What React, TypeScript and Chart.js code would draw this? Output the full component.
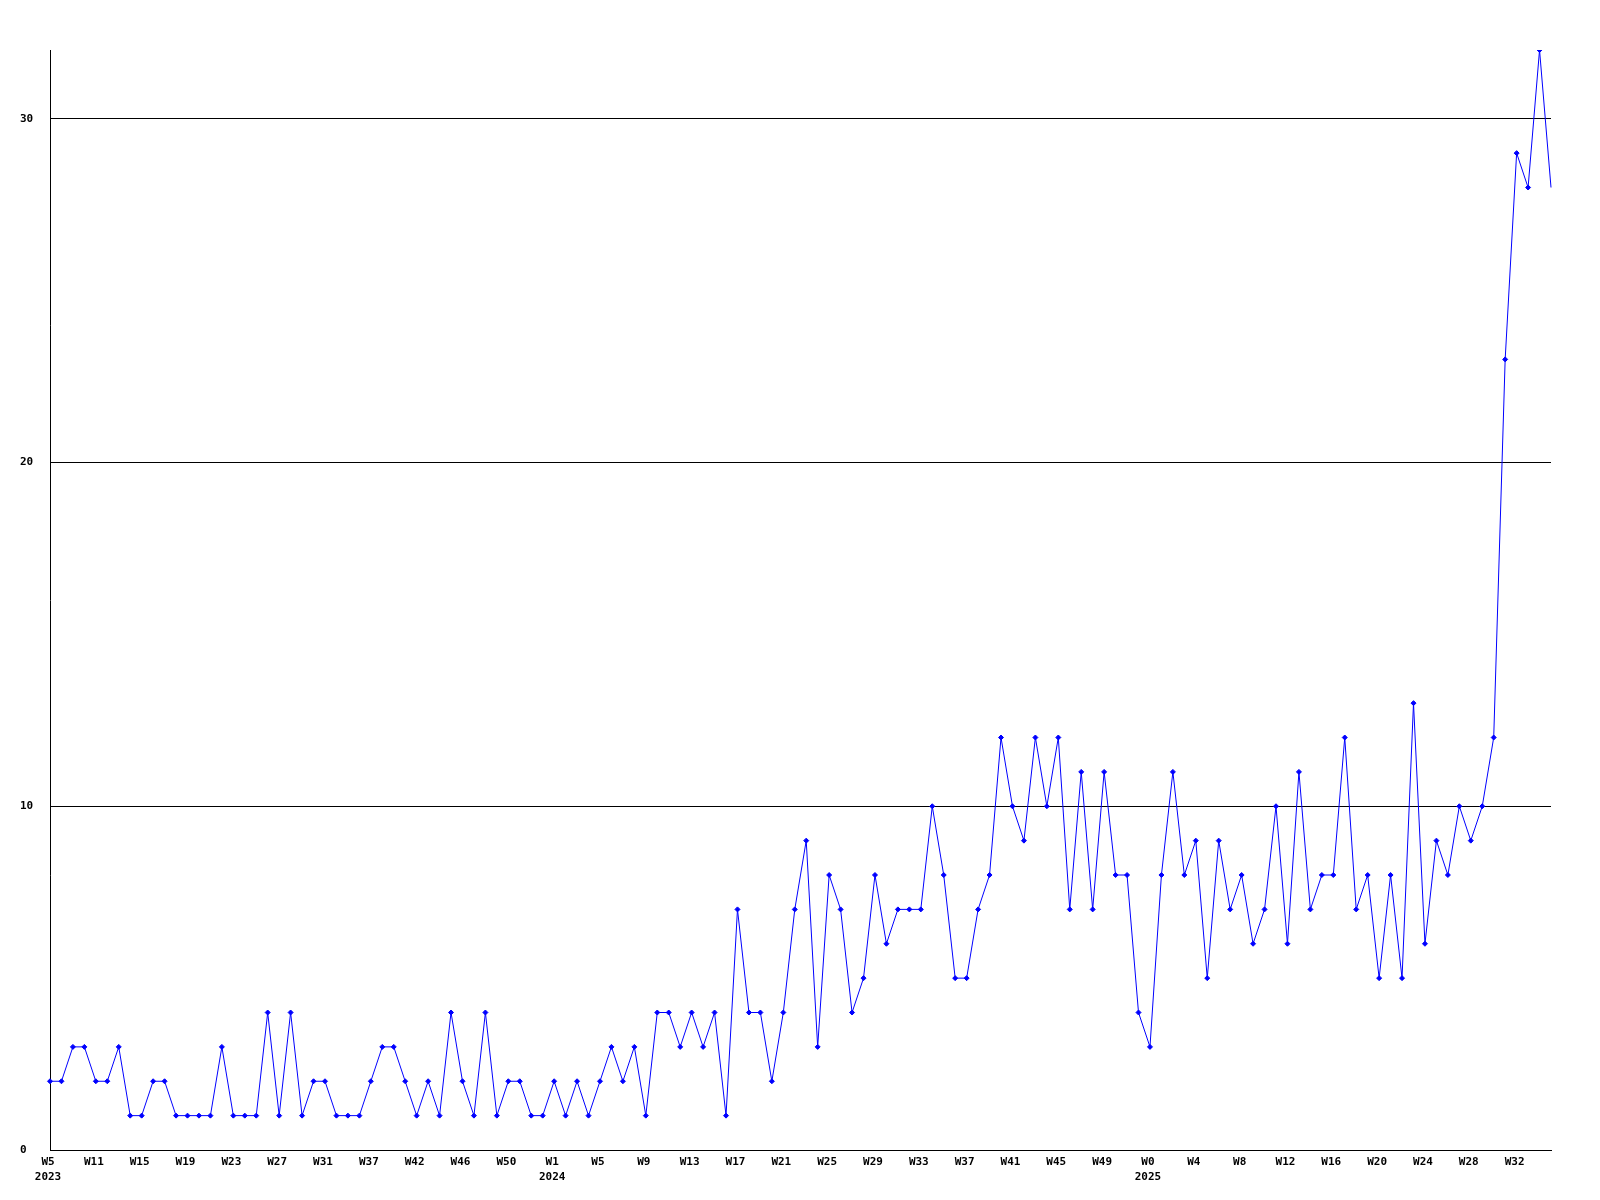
import React, { useEffect, useRef } from "react";
import { Chart, registerables } from "chart.js";

Chart.register(...registerables);

// Weekly counts, W5 2023 .. W35 2025 (132 weeks)
const counts: number[] = [
  2, 2, 3, 3, 2, 2, 3, 1, 1, 2, 2, 1, 1, 1, 1, 3, 1, 1, 1, 4,
  1, 4, 1, 2, 2, 1, 1, 1, 2, 3, 3, 2, 1, 2, 1, 4, 2, 1, 4, 1,
  2, 2, 1, 1, 2, 1, 2, 1, 2, 3, 2, 3, 1, 4, 4, 3, 4, 3, 4, 1,
  7, 4, 4, 2, 4, 7, 9, 3, 8, 7, 4, 5, 8, 6, 7, 7, 7, 10, 8, 5,
  5, 7, 8, 12, 10, 9, 12, 10, 12, 7, 11, 7, 11, 8, 8, 4, 3, 8, 11, 8,
  9, 5, 9, 7, 8, 6, 7, 10, 6, 11, 7, 8, 8, 12, 7, 8, 5, 8, 5, 13,
  6, 9, 8, 10, 9, 10, 12, 23, 29, 28, 32, 28,
];

// Tick labels shown every 4th week
const tickLabels: (string | string[])[] = [
  ["W5", "2023"], "W11", "W15", "W19", "W23", "W27", "W31", "W37", "W42", "W46", "W50",
  ["W1", "2024"], "W5", "W9", "W13", "W17", "W21", "W25", "W29", "W33", "W37", "W41", "W45", "W49",
  ["W0", "2025"], "W4", "W8", "W12", "W16", "W20", "W24", "W28", "W32",
];
const tickEvery = 4;

const yTicks: number[] = [0, 10, 20, 30];
const yMax = 32;

const categories: (string | string[])[] = counts.map((_, i) =>
  i % tickEvery === 0 && tickLabels[i / tickEvery] !== undefined ? tickLabels[i / tickEvery] : ""
);

const FONT_FAMILY = "'DejaVu Sans Mono', 'Liberation Mono', monospace";

export default function App() {
  const ref = useRef<HTMLCanvasElement>(null);

  useEffect(() => {
    if (!ref.current) return;
    const last = counts.length - 1;
    const chart = new Chart(ref.current, {
      type: "line",
      data: {
        labels: categories,
        datasets: [
          {
            data: counts,
            borderColor: "#0000ff",
            backgroundColor: "#0000ff",
            borderWidth: 1,
            pointStyle: "rectRot",
            pointRadius: (ctx: any) => (ctx.dataIndex === last ? 0 : 2.5),
            pointBorderWidth: 1,
            pointBorderColor: "#0000ff",
            pointBackgroundColor: "#0000ff",
            tension: 0,
            fill: false,
          },
        ],
      },
      options: {
        responsive: false,
        animation: false,
        events: [],
        layout: { padding: { left: 20, top: 50, right: 49, bottom: 0 } },
        plugins: {
          legend: { display: false },
          tooltip: { enabled: false },
          title: { display: false },
        },
        scales: {
          x: {
            type: "category",
            offset: false,
            grid: { display: true, color: "rgba(0,0,0,0)", drawTicks: false, tickLength: 0 },
            border: { display: true, color: "#000000", width: 1 },
            ticks: {
              autoSkip: false,
              maxRotation: 0,
              minRotation: 0,
              padding: 5,
              labelOffset: -2,
              color: "#000000",
              font: { family: FONT_FAMILY, size: 11, weight: "bold", lineHeight: "15px" } as any,
            },
            afterFit: (scale: any) => {
              scale.height = 50;
            },
          },
          y: {
            type: "linear",
            min: 0,
            max: yMax,
            grid: { display: true, color: "#000000", lineWidth: 1, drawTicks: false, tickLength: 0 },
            border: { display: true, color: "#000000", width: 1 },
            afterBuildTicks: (scale: any) => {
              scale.ticks = yTicks.map((v) => ({ value: v }));
            },
            ticks: {
              includeBounds: false,
              crossAlign: "far",
              padding: 0,
              color: "#000000",
              font: { family: FONT_FAMILY, size: 11, weight: "bold" },
            },
            afterFit: (scale: any) => {
              scale.width = 30;
            },
          },
        },
      } as any,
    });
    return () => chart.destroy();
  }, []);

  return (
    <div style={{ position: "absolute", left: 0, top: 0, width: 1600, height: 1200, background: "#ffffff" }}>
      <canvas ref={ref} width={1600} height={1200} style={{ display: "block" }} />
    </div>
  );
}
